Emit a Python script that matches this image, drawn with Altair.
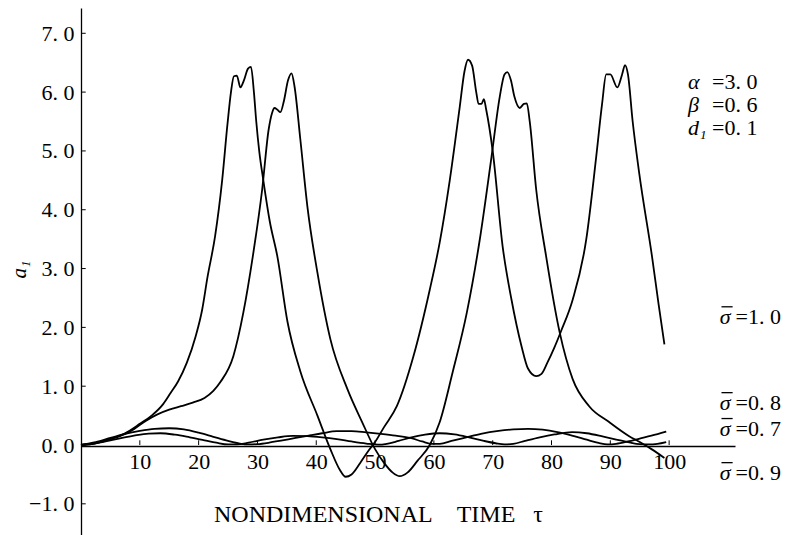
import altair as alt
import pandas as pd

# sigma = 1.0 curve
a_x = [0, 2.5, 5, 7.5, 10, 12, 14, 15.2, 16.5, 18, 19.5, 20.6, 21.5, 22.8, 24, 24.9, 25.5, 26,
       26.5, 27.1, 27.7, 28.4, 28.9, 29.4, 29.8, 30.3, 31, 32.1, 33.4, 35.1, 37.3, 40.2, 42.4,
       44, 45, 46, 47.5, 49, 50, 51.5, 53.7, 56.5, 59.3, 61, 62.7, 64.4, 65.2, 65.8, 66.5, 67.2,
       67.6, 68.1, 68.5, 68.9, 70, 71.7, 73.2, 74.9, 76, 77.4, 78.3, 79.3, 80.5, 81.6, 83.6,
       85.9, 87.6, 88.6, 89.3, 90, 91.2, 92, 92.5, 93, 93.8, 94.9, 97.1, 98.2, 99.2]
a_y = [0, 0.03, 0.1, 0.2, 0.36, 0.5, 0.7, 0.88, 1.08, 1.4, 1.85, 2.3, 2.85, 3.55, 4.5, 5.45, 6.0,
       6.27, 6.28, 6.08, 6.2, 6.4, 6.43, 6.0, 5.5, 5.0, 4.5, 3.8, 3.2, 2.1, 1.25, 0.5, -0.07,
       -0.42, -0.54, -0.5, -0.3, -0.08, 0.05, 0.3, 0.66, 1.5, 2.64, 3.45, 4.5, 5.75, 6.35, 6.55,
       6.45, 6.0, 5.8, 5.8, 5.88, 5.7, 5.0, 3.37, 2.47, 1.68, 1.3, 1.17, 1.21, 1.4, 1.66, 1.93,
       2.47, 3.49, 4.9, 5.8, 6.3, 6.3, 6.08, 6.3, 6.46, 6.3, 5.5, 4.63, 3.2, 2.4, 1.71]

# sigma = 0.9 curve
b_x = [0, 2.5, 5, 7.5, 9, 11, 13, 15, 17, 19, 21, 22.5, 23.7, 25.9, 27.6, 29.2, 30.8, 31.9,
       32.5, 32.9, 33.4, 33.9, 34.5, 35.2, 35.8, 36.3, 37.3, 38.5, 40.2, 42.4, 45.3, 47.8, 50,
       51.5, 53, 54.2, 55.5, 57.2, 59.3, 61, 63.2, 65.6, 67.8, 69.8, 71.2, 72, 72.5, 73.1, 73.7,
       74.6, 75.3, 75.8, 76.3, 77.4, 79.1, 81.4, 83.6, 86.4, 89.8, 93.2, 95, 97, 99.2]
b_y = [0, 0.03, 0.1, 0.19, 0.27, 0.41, 0.52, 0.6, 0.66, 0.72, 0.8, 0.92, 1.07, 1.51, 2.25, 3.2,
       4.34, 5.36, 5.65, 5.73, 5.7, 5.66, 5.85, 6.2, 6.32, 6.1, 5.19, 4.05, 2.93, 1.8, 0.95, 0.39,
       -0.07, -0.3, -0.47, -0.53, -0.47, -0.27, 0, 0.39, 1.24, 2.25, 3.49, 4.9, 5.92, 6.3, 6.34,
       6.2, 5.92, 5.73, 5.8, 5.81, 5.5, 4.34, 3.2, 1.91, 1.12, 0.66, 0.39, 0.15, 0.05, -0.07,
       -0.22]

# small curve (upper at the start)
c_x = [0, 2.5, 5, 7.5, 10, 12.5, 15, 17.5, 20, 22.5, 25, 27, 28.5, 30, 32, 34, 36.5, 38.5, 41,
       43.5, 46, 48.5, 51, 53.5, 56, 58, 59.5, 61, 63, 65.5, 68, 71, 73.5, 76, 78.5, 81, 83.5,
       86, 88, 89.5, 91, 93, 95, 97, 99.5]
c_y = [0, 0.05, 0.12, 0.19, 0.24, 0.275, 0.285, 0.265, 0.21, 0.14, 0.07, 0.025, 0.01, 0.015,
       0.04, 0.075, 0.12, 0.155, 0.2, 0.235, 0.235, 0.215, 0.19, 0.16, 0.12, 0.06, 0.02, 0.02,
       0.07, 0.13, 0.19, 0.24, 0.265, 0.275, 0.26, 0.22, 0.16, 0.09, 0.035, 0.01, 0.02, 0.06,
       0.11, 0.16, 0.23]

# small curve (lower at the start)
d_x = [0, 3, 6, 9, 11.5, 13.5, 16, 18.5, 21, 23, 25, 26.5, 28.5, 31, 33.5, 36, 38.5, 41, 43.5,
       46, 48.5, 50.5, 52, 54, 56, 58.5, 61, 63.5, 66, 68.5, 70.5, 72, 73.5, 75.5, 78, 80.5,
       83.5, 86, 88.5, 91, 93, 95, 96.5, 98, 99.5]
d_y = [0, 0.04, 0.1, 0.16, 0.195, 0.2, 0.175, 0.13, 0.08, 0.04, 0.01, 0.01, 0.04, 0.09, 0.13,
       0.155, 0.15, 0.13, 0.1, 0.06, 0.025, 0.005, 0.02, 0.07, 0.125, 0.175, 0.2, 0.18, 0.13,
       0.07, 0.03, 0.01, 0.02, 0.07, 0.13, 0.18, 0.22, 0.2, 0.15, 0.09, 0.05, 0.015, 0.01, 0.02,
       0.05]

x_ticks = [10, 20, 30, 40, 50, 60, 70, 80, 90, 100]
y_ticks = [-1, 0, 1, 2, 3, 4, 5, 6, 7]

param_sym = ["α", "β", "d₁"]
param_val = ["=3. 0", "=0. 6", "=0. 1"]
param_sym_x = [103.2, 103.2, 103.2]
param_val_x = [107.3, 107.3, 107.3]
param_y = [6.17, 5.78, 5.39]

sigma_val = ["=1. 0", "=0. 8", "=0. 7", "=0. 9"]
sigma_sym_x = [108.6, 108.6, 108.6, 108.6]
sigma_val_x = [111.3, 111.3, 111.3, 111.3]
sigma_y = [2.17, 0.71, 0.27, -0.48]

X_MAX = 111.2
Y_MIN, Y_MAX = -1.53, 7.43
SERIF = "Liberation Serif"
NB = "\u00a0"

rows = []
for name, xs, ys in [("A", a_x, a_y), ("B", b_x, b_y), ("C", c_x, c_y), ("D", d_x, d_y)]:
    for i, (xv, yv) in enumerate(zip(xs, ys)):
        rows.append({"series": name, "order": i, "t": xv, "a": yv})
curves = pd.DataFrame(rows)

xscale = alt.Scale(domain=[0, X_MAX], nice=False, zero=False)
yscale = alt.Scale(domain=[Y_MIN, Y_MAX], nice=False, zero=False)

lines = alt.Chart(curves).mark_line(
    color="black", strokeWidth=1.8, interpolate="monotone"
).encode(
    x=alt.X("t:Q", scale=xscale, axis=alt.Axis(
        values=x_ticks, format="d", offset=-89, domain=True, domainColor="black",
        domainWidth=1.3, ticks=False, grid=False, labelFont=SERIF, labelFontSize=22,
        labelColor="black", labelPadding=5,
        title="NONDIMENSIONAL" + NB * 4 + "TIME" + NB * 3 + "τ", titleFont=SERIF,
        titleFontSize=24, titleFontWeight="normal", titleColor="black",
        titleX=297, titleY=68, titleAlign="center", titleBaseline="middle")),
    y=alt.Y("a:Q", scale=yscale, axis=alt.Axis(
        values=y_ticks, format=".1f",
        labelExpr="replace(format(datum.value, '.1f'), '.', '. ')",
        domain=True, domainColor="black", domainWidth=1.3,
        ticks=False, grid=False, labelFont=SERIF, labelFontSize=22, labelColor="black",
        labelPadding=7, title="a₁", titleFont=SERIF, titleFontStyle="italic",
        titleFontSize=21, titleFontWeight="normal", titleColor="black",
        titleX=-62, titleY=261, titleAlign="center", titleBaseline="middle")),
    detail="series:N",
    order="order:Q",
)

xt = pd.DataFrame({"t": x_ticks, "y0": [0] * len(x_ticks), "y1": [0.08] * len(x_ticks)})
x_tick_marks = alt.Chart(xt).mark_rule(color="black", strokeWidth=1).encode(
    x=alt.X("t:Q", scale=xscale), y=alt.Y("y0:Q", scale=yscale), y2="y1:Q")

yt = pd.DataFrame({"a": y_ticks, "x0": [0] * len(y_ticks), "x1": [0.8] * len(y_ticks)})
y_tick_marks = alt.Chart(yt).mark_rule(color="black", strokeWidth=1).encode(
    y=alt.Y("a:Q", scale=yscale), x=alt.X("x0:Q", scale=xscale), x2="x1:Q")

params = pd.DataFrame({"sym": param_sym, "val": param_val, "xs": param_sym_x,
                       "xv": param_val_x, "a": param_y})
param_syms = alt.Chart(params).mark_text(
    align="left", baseline="middle", font=SERIF, fontSize=22, fontStyle="italic",
    color="black"
).encode(x=alt.X("xs:Q", scale=xscale), y=alt.Y("a:Q", scale=yscale), text="sym:N")
param_vals = alt.Chart(params).mark_text(
    align="left", baseline="middle", font=SERIF, fontSize=22, color="black"
).encode(x=alt.X("xv:Q", scale=xscale), y=alt.Y("a:Q", scale=yscale), text="val:N")

sig = pd.DataFrame({"sym": ["σ"] * 4, "val": sigma_val,
                    "xs": sigma_sym_x, "xv": sigma_val_x, "a": sigma_y})
sigma_syms = alt.Chart(sig).mark_text(
    align="left", baseline="middle", font=SERIF, fontSize=22, fontStyle="italic",
    color="black"
).encode(x=alt.X("xs:Q", scale=xscale), y=alt.Y("a:Q", scale=yscale), text="sym:N")
# overbar of sigma drawn as a short rule just above each symbol
sigma_bars = alt.Chart(sig).transform_calculate(
    bx0="datum.xs + 0.3", bx1="datum.xs + 2.2", by="datum.a + 0.18"
).mark_rule(color="black", strokeWidth=1.3).encode(
    x=alt.X("bx0:Q", scale=xscale), x2="bx1:Q", y=alt.Y("by:Q", scale=yscale))
sigma_vals = alt.Chart(sig).mark_text(
    align="left", baseline="middle", font=SERIF, fontSize=22, color="black"
).encode(x=alt.X("xv:Q", scale=xscale), y=alt.Y("a:Q", scale=yscale), text="val:N")

chart = alt.layer(
    lines, x_tick_marks, y_tick_marks, param_syms, param_vals,
    sigma_syms, sigma_bars, sigma_vals
).properties(
    width=654, height=527,
    autosize=alt.AutoSizeParams(type="none"),
    padding={"left": 81, "top": 8, "right": 63, "bottom": 0},
    background="white",
).configure_view(stroke=None)

chart.save("out.html", embed_options={"renderer": "svg", "actions": False})
